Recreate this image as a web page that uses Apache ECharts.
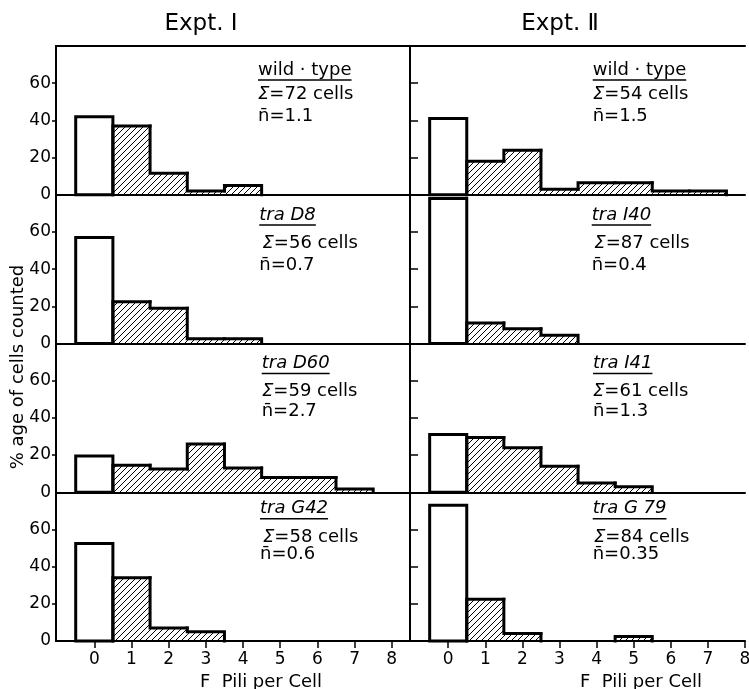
<!DOCTYPE html>
<html>
<head>
<meta charset="utf-8">
<script src="https://cdn.jsdelivr.net/npm/echarts@6/dist/echarts.min.js"></script>
<style>
  html, body { margin: 0; padding: 0; background: #fff; }
  #chart { width: 749px; height: 689px; }
</style>
</head>
<body>
<div id="chart"></div>
<script>
// % of cells with 0,1,2,... F pili (bin 0 is the open bar, the rest hatched)
const expt1WildType = [42, 37, 11.5, 2, 5]
const expt1TraD8 = [57, 22.5, 19, 2.5, 2.5]
const expt1TraD60 = [19.5, 14.5, 12.5, 26, 13, 8, 8, 1.7]
const expt1TraG42 = [52.5, 34, 7, 5]
const expt2WildType = [41, 18, 24, 3, 6.5, 6.5, 2, 2]
const expt2TraI40 = [78, 11, 8, 4.5]
const expt2TraI41 = [31, 29.5, 24, 14, 5, 3]
const expt2TraG79 = [73, 22.5, 4, 0, 0, 2.4]

const strains1 = ['wild · type', 'tra D8', 'tra D60', 'tra G42']
const strains2 = ['wild · type', 'tra I40', 'tra I41', 'tra G 79']
const cells1 = [72, 56, 59, 58]
const cells2 = [54, 87, 61, 84]
const means1 = ['1.1', '0.7', '2.7', '0.6']
const means2 = ['1.5', '0.4', '1.3', '0.35']

const xTicks = [0, 1, 2, 3, 4, 5, 6, 7, 8]
const yTicks = [0, 20, 40, 60]
const yTickMarks = [20, 40, 60]

const FONT = 'DejaVu Sans'

// layout
const cols = [
  { left: 56, width: 354, min: -1.03, max: 8.49 },
  { left: 410, width: 335, min: -1.03, max: 8 },
]
const rowTop = 46
const rowH = 148.75
const annoY = [
  [70, 94, 116.3],
  [215, 243.3, 265.7],
  [363.5, 391.5, 411.3],
  [508.8, 537.3, 554.7],
]
const annoX = [
  [[258, 258], [259.3, 262.5], [261.7, 262], [260, 263]],
  [[592.7, 593], [591.7, 594.3], [593, 593], [592.7, 594]],
]

// hatch pattern ///
const hatch = document.createElement('canvas')
hatch.width = 6
hatch.height = 6
const hg = hatch.getContext('2d')
hg.strokeStyle = '#000'
hg.lineWidth = 1
hg.beginPath()
hg.moveTo(-1, 7); hg.lineTo(7, -1)
hg.moveTo(-1, 1); hg.lineTo(1, -1)
hg.moveTo(5, 7); hg.lineTo(7, 5)
hg.stroke()
const hatchFill = { image: hatch, repeat: 'repeat' }

function binData(vals) {
  return vals.map((h, i) => [i, h, i <= 1 ? 0 : vals[i - 1], i === vals.length - 1 ? 1 : 0])
}

function renderBins(params, api) {
  const i = api.value(0)
  const h = api.value(1)
  const prev = api.value(2)
  const last = api.value(3)
  const p0 = api.coord([i - 0.5, 0])
  const p1 = api.coord([i + 0.5, h])
  const shape = { x: p0[0], y: p1[1], width: p1[0] - p0[0], height: p0[1] - p1[1] }
  const outline = { fill: null, stroke: '#000', lineWidth: 3, lineJoin: 'miter', lineCap: 'square' }
  if (i === 0) {
    return {
      type: 'group',
      children: [
        { type: 'rect', shape, style: { fill: '#fff' }, z2: 1 },
        { type: 'rect', shape, style: outline, z2: 10 },
      ],
    }
  }
  let pts
  if (h === 0) {
    pts = [api.coord([i - 0.5, prev]), api.coord([i - 0.5, 0])]
  } else {
    pts = [api.coord([i - 0.5, prev]), api.coord([i - 0.5, h]), api.coord([i + 0.5, h])]
    if (last) pts.push(api.coord([i + 0.5, 0]))
  }
  return {
    type: 'group',
    children: [
      { type: 'rect', shape, style: { fill: hatchFill }, z2: 1 },
      { type: 'polyline', shape: { points: pts }, style: outline, z2: 10 },
    ],
  }
}

const panels = [
  [expt1WildType, expt1TraD8, expt1TraD60, expt1TraG42],
  [expt2WildType, expt2TraI40, expt2TraI41, expt2TraG79],
]

const grid = []
const xAxis = []
const yAxis = []
const series = []
const extraX = []
const extraY = []
const blackLine = { color: '#000', width: 2 }

panels.forEach((col, c) => {
  col.forEach((vals, r) => {
    const k = grid.length
    const bottom = r === 3
    grid.push({
      left: cols[c].left,
      top: rowTop + r * rowH,
      width: cols[c].width,
      height: rowH,
      containLabel: false,
      outerBoundsMode: 'none',
    })
    xAxis.push({
      type: 'value',
      gridIndex: k,
      min: cols[c].min,
      max: cols[c].max,
      position: 'bottom',
      axisLine: { show: true, onZero: false, lineStyle: blackLine },
      axisTick: { show: bottom, length: 7, customValues: xTicks, lineStyle: { color: '#000', width: 1.5 } },
      axisLabel: {
        show: bottom, customValues: xTicks, margin: 10,
        color: '#000', fontSize: 17, fontFamily: FONT,
      },
      splitLine: { show: false },
    })
    yAxis.push({
      type: 'value',
      gridIndex: k,
      min: 0,
      max: 80,
      position: 'left',
      axisLine: { show: true, onZero: false, lineStyle: blackLine },
      axisTick: {
        show: true, inside: c === 1, length: c === 1 ? 8 : 4,
        customValues: yTickMarks, lineStyle: { color: '#000', width: 1.5 },
      },
      axisLabel: {
        show: c === 0, customValues: yTicks, margin: 5,
        color: '#000', fontSize: 17, fontFamily: FONT,
      },
      splitLine: { show: false },
    })
    if (r === 0) {
      extraX.push({
        type: 'value', gridIndex: k, min: cols[c].min, max: cols[c].max, position: 'top',
        axisLine: { show: true, onZero: false, lineStyle: blackLine },
        axisTick: { show: false }, axisLabel: { show: false }, splitLine: { show: false },
      })
    }
    if (c === 0) {
      extraY.push({
        type: 'value', gridIndex: k, min: 0, max: 80, position: 'right',
        axisLine: { show: true, onZero: false, lineStyle: blackLine },
        axisTick: { show: false }, axisLabel: { show: false }, splitLine: { show: false },
      })
    }
    series.push({
      type: 'custom',
      xAxisIndex: k,
      yAxisIndex: k,
      renderItem: renderBins,
      clip: false,
      silent: true,
      data: binData(vals),
    })
  })
})

// texts
const measure = document.createElement('canvas').getContext('2d')
function textWidth(str, size, italic) {
  measure.font = (italic ? 'italic ' : '') + size + 'px "' + FONT + '"'
  return measure.measureText(str).width
}

const graphic = [
  { type: 'text', x: 201, y: 24, style: { text: 'Expt. Ⅰ', fontSize: 23, fontFamily: FONT, fill: '#000', align: 'center', verticalAlign: 'middle' } },
  { type: 'text', x: 560, y: 24, style: { text: 'Expt. Ⅱ', fontSize: 23, fontFamily: FONT, fill: '#000', align: 'center', verticalAlign: 'middle' } },
  { type: 'text', x: 18, y: 367, rotation: Math.PI / 2, style: { text: '% age of cells counted', fontSize: 18, fontFamily: FONT, fill: '#000', align: 'center', verticalAlign: 'middle' } },
  { type: 'text', x: 261, y: 682, style: { text: 'F  Pili per Cell', fontSize: 18, fontFamily: FONT, fill: '#000', align: 'center', verticalAlign: 'middle' } },
  { type: 'text', x: 641, y: 682, style: { text: 'F  Pili per Cell', fontSize: 18, fontFamily: FONT, fill: '#000', align: 'center', verticalAlign: 'middle' } },
]

const annoSize = 18
;[[strains1, cells1, means1], [strains2, cells2, means2]].forEach(([names, cells, means], c) => {
  names.forEach((name, r) => {
    const [tx, sx] = annoX[c][r]
    const [ty, sy, my] = annoY[r]
    const italic = name.indexOf('tra') === 0
    const base = { fontSize: annoSize, fontFamily: FONT, fill: '#000', align: 'left', verticalAlign: 'middle' }
    graphic.push({ type: 'text', x: tx, y: ty, style: Object.assign({}, base, { text: name, fontStyle: italic ? 'italic' : 'normal' }) })
    const w = textWidth(name, annoSize, italic)
    graphic.push({ type: 'line', shape: { x1: tx, y1: ty + 10, x2: tx + w, y2: ty + 10 }, style: { stroke: '#000', lineWidth: 1.5 } })
    graphic.push({
      type: 'text', x: sx, y: sy,
      style: Object.assign({}, base, {
        text: '{s|Σ}=' + cells[r] + ' cells',
        rich: { s: { fontStyle: 'italic', fontSize: annoSize, fontFamily: FONT, fill: '#000' } },
      }),
    })
    graphic.push({ type: 'text', x: tx, y: my, style: Object.assign({}, base, { text: 'n\u0304=' + means[r] }) })
  })
})

const chart = echarts.init(document.getElementById('chart'))
chart.setOption({
  animation: false,
  backgroundColor: '#fff',
  grid,
  xAxis: xAxis.concat(extraX),
  yAxis: yAxis.concat(extraY),
  series,
  graphic,
})
</script>
</body>
</html>
